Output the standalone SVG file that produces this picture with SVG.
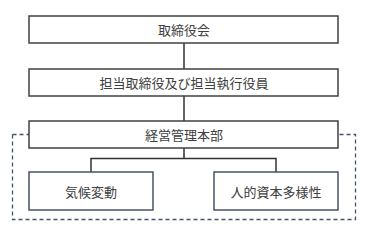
<svg xmlns="http://www.w3.org/2000/svg" width="369" height="236" viewBox="0 0 369 236">
<style>
.box{fill:#ffffff;stroke:#404040;stroke-width:1.5}
.sub{fill:#ffffff;stroke:#44546A;stroke-width:1.5}
.t{font-family:"Noto Sans CJK JP","Noto Sans CJK SC",sans-serif;font-size:13px;fill:#404040;text-anchor:middle;dominant-baseline:central}
.c{fill:none;stroke:#333333;stroke-width:1.5}
.d{fill:none;stroke:#44546A;stroke-width:1.3;stroke-dasharray:4 3}
</style>
<rect x="0" y="0" width="369" height="236" fill="#ffffff"/>
<path class="d" d="M12.5 134.5 V219.5 H355.5 V134.5 H338 M12.5 134.5 H29"/>
<g id="connectors">
<line class="c" x1="184" y1="43" x2="184" y2="69"/>
<line class="c" x1="184" y1="96" x2="184" y2="121"/>
<path class="c" d="M184 148 V158.5 M91 172 V158.5 H276 V172"/>
</g>
<g id="board"><rect class="box" x="29" y="16" width="309" height="27"/><text class="t" x="184" y="29.5">取締役会</text></g>
<g id="officers"><rect class="box" x="29" y="69" width="309" height="27"/><text class="t" x="184" y="82.5">担当取締役及び担当執行役員</text></g>
<g id="hq"><rect class="box" x="29" y="121" width="309" height="27"/><text class="t" x="184" y="134.5">経営管理本部</text></g>
<g id="climate"><rect class="sub" x="29" y="172" width="124" height="38"/><text class="t" x="91" y="191">気候変動</text></g>
<g id="human"><rect class="sub" x="214" y="172" width="124" height="38"/><text class="t" x="276" y="191">人的資本多様性</text></g>
</svg>
